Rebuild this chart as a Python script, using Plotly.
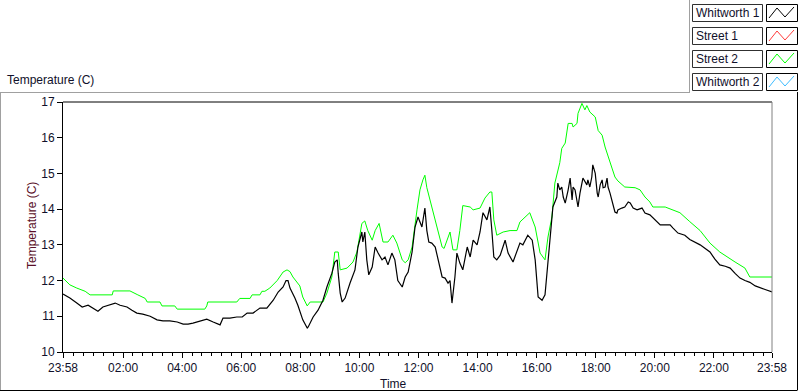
import plotly.graph_objects as go
import pandas as pd

# ---------------- data (minutes after the 23:58 start, temperature in C) -------------
street2_min = [0, 14, 28, 45, 55, 100, 102, 136, 152, 167, 171, 197, 201, 227, 232, 288, 292, 294,
               353, 359, 380, 384, 400, 404, 410, 420, 435, 447, 455, 461, 467, 481, 487, 496, 502,
               528, 536, 546, 552, 559, 563, 577, 589, 597, 607, 613, 619, 628, 634, 642, 650, 660,
               670, 678, 689, 695, 701, 709, 719, 725, 731, 735, 739, 749, 760, 770, 774, 780, 786,
               792, 800, 806, 812, 827, 833, 847, 857, 867, 871, 875, 881, 894, 908, 922, 928, 948,
               959, 969, 979, 985, 993, 999, 1003, 1009, 1013, 1020, 1026, 1034, 1036, 1044, 1046,
               1054, 1060, 1064, 1070, 1081, 1087, 1095, 1101, 1107, 1115, 1121, 1127, 1141, 1152,
               1162, 1172, 1182, 1192, 1198, 1223, 1233, 1247, 1253, 1273, 1294, 1314, 1334, 1365,
               1385, 1395, 1440]
street2_val = [12.07, 11.88, 11.79, 11.70, 11.60, 11.60, 11.71, 11.71, 11.60, 11.50, 11.40, 11.40,
               11.29, 11.29, 11.20, 11.20, 11.29, 11.40, 11.40, 11.50, 11.50, 11.60, 11.60, 11.70,
               11.70, 11.79, 12.00, 12.24, 12.30, 12.25, 12.10, 11.85, 11.54, 11.29, 11.40, 11.40,
               11.65, 12.10, 12.80, 12.80, 12.30, 12.35, 12.52, 12.80, 13.60, 13.67, 13.40, 13.13,
               13.40, 13.60, 13.08, 13.08, 13.27, 13.05, 12.58, 12.50, 12.58, 12.94, 13.98, 14.54,
               14.82, 14.95, 14.60, 14.06, 13.50, 12.94, 12.90, 13.13, 13.36, 12.86, 12.86, 13.40,
               14.10, 14.06, 13.98, 14.03, 14.31, 14.48, 14.48, 13.70, 13.27, 13.36, 13.40, 13.40,
               13.64, 13.90, 13.50, 12.77, 12.58, 13.22, 13.78, 14.73, 14.95, 15.30, 15.70, 15.85,
               16.40, 16.40, 16.30, 16.40, 16.68, 16.96, 16.78, 16.90, 16.72, 16.58, 16.20, 16.07,
               15.74, 15.46, 15.15, 14.90, 14.79, 14.62, 14.60, 14.60, 14.54, 14.34, 14.20, 14.06,
               14.06, 14.00, 13.92, 13.90, 13.65, 13.40, 13.05, 12.80, 12.52, 12.35, 12.10, 12.10]

whit1_min = [0, 14, 28, 39, 51, 61, 71, 81, 95, 106, 116, 130, 140, 150, 162, 177, 191, 203, 217,
             232, 244, 254, 264, 278, 292, 305, 319, 325, 339, 353, 364, 374, 386, 400, 414, 427,
             437, 447, 453, 457, 461, 471, 477, 487, 496, 498, 508, 518, 528, 536, 546, 552, 557,
             559, 563, 567, 573, 583, 593, 599, 603, 607, 609, 613, 617, 621, 628, 634, 640, 648,
             654, 660, 668, 674, 680, 689, 695, 701, 709, 715, 721, 729, 735, 739, 743, 749, 756,
             762, 770, 776, 782, 786, 790, 796, 800, 806, 812, 821, 827, 833, 841, 847, 853, 861,
             867, 871, 875, 881, 888, 898, 904, 914, 922, 928, 934, 944, 953, 959, 965, 973, 979,
             985, 989, 993, 995, 1003, 1005, 1009, 1013, 1016, 1020, 1026, 1030, 1034, 1036, 1040,
             1044, 1046, 1050, 1056, 1064, 1066, 1070, 1074, 1076, 1081, 1085, 1087, 1091, 1095,
             1097, 1101, 1105, 1107, 1111, 1115, 1117, 1121, 1125, 1127, 1135, 1141, 1148, 1152,
             1158, 1166, 1176, 1182, 1192, 1202, 1213, 1223, 1233, 1239, 1249, 1263, 1273, 1294,
             1304, 1314, 1324, 1334, 1345, 1355, 1365, 1375, 1385, 1395, 1406, 1416, 1426, 1440]
whit1_val = [11.62, 11.51, 11.37, 11.26, 11.31, 11.23, 11.14, 11.26, 11.31, 11.37, 11.31, 11.26,
             11.17, 11.09, 11.06, 11.00, 10.90, 10.87, 10.87, 10.84, 10.78, 10.78, 10.81, 10.87,
             10.92, 10.84, 10.76, 10.95, 10.95, 10.98, 10.98, 11.09, 11.09, 11.23, 11.23, 11.45,
             11.68, 11.82, 12.00, 12.00, 11.79, 11.51, 11.31, 10.90, 10.67, 10.70, 10.98, 11.17,
             11.45, 11.82, 12.20, 12.52, 12.58, 12.20, 11.65, 11.40, 11.51, 11.93, 12.30, 12.94,
             13.19, 13.36, 13.08, 13.36, 12.58, 12.16, 12.38, 12.94, 12.77, 12.58, 12.66, 12.44,
             12.77, 12.58, 12.00, 11.82, 12.10, 12.24, 12.80, 13.50, 13.78, 13.50, 14.03, 13.40,
             13.08, 13.05, 12.94, 12.58, 12.10, 12.07, 11.93, 12.00, 11.37, 12.10, 12.77, 12.49,
             12.30, 12.94, 12.66, 13.13, 13.00, 13.36, 13.90, 13.70, 14.06, 13.40, 12.66, 12.58,
             12.71, 13.13, 12.77, 12.52, 12.80, 13.05, 13.00, 13.27, 13.13, 12.58, 11.54, 11.45,
             11.60, 12.52, 13.19, 13.60, 14.06, 14.34, 14.73, 14.54, 14.62, 14.34, 14.17, 14.54,
             14.87, 14.26, 14.62, 14.54, 14.26, 14.06, 14.45, 14.87, 14.68, 14.82, 14.62, 14.90,
             15.24, 15.00, 14.45, 14.34, 14.68, 14.82, 14.60, 14.62, 14.87, 14.62, 14.45, 14.26,
             14.12, 13.92, 13.89, 13.98, 14.03, 14.06, 14.20, 14.17, 14.03, 13.98, 14.03, 13.89,
             13.84, 13.70, 13.56, 13.56, 13.56, 13.47, 13.33, 13.27, 13.15, 13.00, 12.90, 12.80,
             12.60, 12.44, 12.40, 12.35, 12.20, 12.07, 12.00, 11.95, 11.85, 11.79, 11.75, 11.68]

series_names = ["Whitworth 1", "Street 1", "Street 2", "Whitworth 2"]
series_colors = ["#000000", "#ff3b3b", "#00ff00", "#3cbcff"]

x_tick_labels = ["23:58", "02:00", "04:00", "06:00", "08:00", "10:00", "12:00",
                 "14:00", "16:00", "18:00", "20:00", "22:00", "23:58"]
y_ticks = [10, 11, 12, 13, 14, 15, 16, 17]

# ---------------- build -------------
START = pd.Timestamp("2013-07-01 23:58")
DAY2 = pd.Timestamp("2013-07-02")


def to_time(mins):
    return [START + pd.Timedelta(minutes=m) for m in mins]


tickvals = []
for i, lab in enumerate(x_tick_labels):
    if i == 0:
        tickvals.append(START)
    elif i == len(x_tick_labels) - 1:
        tickvals.append(START + pd.Timedelta(days=1))
    else:
        h, m = map(int, lab.split(":"))
        tickvals.append(DAY2 + pd.Timedelta(hours=h, minutes=m))

W, H = 800, 392
L, R, T, B = 63, 28, 102, 40
PW, PH = W - L - R, H - T - B


def px(x):
    return (x - L) / PW


def py(y):
    return (H - B - y) / PH


FONT = "Liberation Sans"
TXT = "#10102a"

fig = go.Figure()
fig.add_trace(go.Scatter(x=to_time(street2_min), y=street2_val, mode="lines",
                         line=dict(color=series_colors[2], width=1), name=series_names[2],
                         showlegend=False, hoverinfo="skip"))
fig.add_trace(go.Scatter(x=to_time(whit1_min), y=whit1_val, mode="lines",
                         line=dict(color=series_colors[0], width=1.2), name=series_names[0],
                         showlegend=False, hoverinfo="skip"))

shapes = []
annotations = []

# outer frame of the chart control
shapes.append(dict(type="line", xref="paper", yref="paper", x0=px(0.5), x1=px(0.5), y0=py(92), y1=py(390),
                   line=dict(color="#a0a0a0", width=1)))
shapes.append(dict(type="line", xref="paper", yref="paper", x0=px(0), x1=px(690), y0=py(92.5), y1=py(92.5),
                   line=dict(color="#a0a0a0", width=1)))
shapes.append(dict(type="line", xref="paper", yref="paper", x0=px(689.5), x1=px(689.5), y0=py(0), y1=py(92.5),
                   line=dict(color="#a0a0a0", width=1)))
shapes.append(dict(type="line", xref="paper", yref="paper", x0=px(0), x1=px(797), y0=py(390.5), y1=py(390.5),
                   line=dict(color="#000000", width=1)))
shapes.append(dict(type="line", xref="paper", yref="paper", x0=px(797.5), x1=px(797.5), y0=py(92), y1=py(390.5),
                   line=dict(color="#000000", width=1)))
# plot area frame: top/left dark, right gray
shapes.append(dict(type="line", xref="paper", yref="paper", x0=0, x1=1, y0=1, y1=1,
                   line=dict(color="#000000", width=1)))
shapes.append(dict(type="line", xref="paper", yref="paper", x0=1, x1=1, y0=0, y1=1,
                   line=dict(color="#808080", width=1)))

# custom legend
rows = [4, 27, 50, 73]
for name, color, top in zip(series_names, series_colors, rows):
    shapes.append(dict(type="rect", xref="paper", yref="paper", x0=px(692.5), x1=px(762.5),
                       y0=py(top + 17.5), y1=py(top + 0.5), line=dict(color="#303030", width=1)))
    shapes.append(dict(type="rect", xref="paper", yref="paper", x0=px(766.5), x1=px(797.5),
                       y0=py(top + 17.5), y1=py(top + 0.5), line=dict(color="#000000", width=1)))
    zz = [(769, top + 14), (777, top + 4), (785, top + 13), (794, top + 3)]
    path = "M " + " L ".join(f"{px(a)},{py(b)}" for a, b in zz)
    shapes.append(dict(type="path", xref="paper", yref="paper", path=path,
                       line=dict(color=color, width=1)))
    annotations.append(dict(text=name, xref="paper", yref="paper", x=px(694), y=py(top + 9),
                            xanchor="left", yanchor="middle", showarrow=False,
                            font=dict(family=FONT, size=12, color=TXT)))

# chart label, axis names
annotations.append(dict(text="Temperature (C)", xref="paper", yref="paper", x=px(5), y=py(80),
                        xanchor="left", yanchor="middle", showarrow=False,
                        font=dict(family=FONT, size=12, color=TXT)))
annotations.append(dict(text="Temperature (C)", xref="paper", yref="paper", x=px(32), y=py(226),
                        xanchor="center", yanchor="middle", showarrow=False, textangle=-90,
                        font=dict(family=FONT, size=12, color="#5a0f28")))
annotations.append(dict(text="Time", xref="paper", yref="paper", x=px(393), y=py(384),
                        xanchor="center", yanchor="middle", showarrow=False,
                        font=dict(family=FONT, size=12, color=TXT)))

fig.update_layout(
    width=W, height=H,
    margin=dict(l=L, r=R, t=T, b=B),
    paper_bgcolor="white", plot_bgcolor="white",
    showlegend=False,
    shapes=shapes, annotations=annotations,
    font=dict(family=FONT, size=12, color=TXT),
    xaxis=dict(
        type="date",
        range=[START, START + pd.Timedelta(days=1)],
        tickmode="array", tickvals=tickvals, ticktext=x_tick_labels,
        ticks="outside", ticklen=5, tickcolor="#000000", tickwidth=1,
        showline=True, linecolor="#000000", linewidth=1,
        showgrid=False, zeroline=False,
        minor=dict(ticks="outside", ticklen=3, tickcolor="#000000", tickwidth=1,
                   dtick=20 * 60 * 1000, tick0="2013-07-02 00:00", showgrid=False),
        tickfont=dict(family=FONT, size=12, color=TXT),
    ),
    yaxis=dict(
        range=[10, 17],
        tickmode="array", tickvals=y_ticks, ticktext=[str(v) for v in y_ticks],
        ticks="outside", ticklen=5, tickcolor="#000000", tickwidth=1,
        showline=True, linecolor="#000000", linewidth=1,
        showgrid=False, zeroline=False,
        tickfont=dict(family=FONT, size=12, color=TXT),
    ),
)

fig.write_html("out.html", config={"displayModeBar": False, "staticPlot": True},
               post_script="document.body.style.margin='0';document.body.style.overflow='hidden';")
